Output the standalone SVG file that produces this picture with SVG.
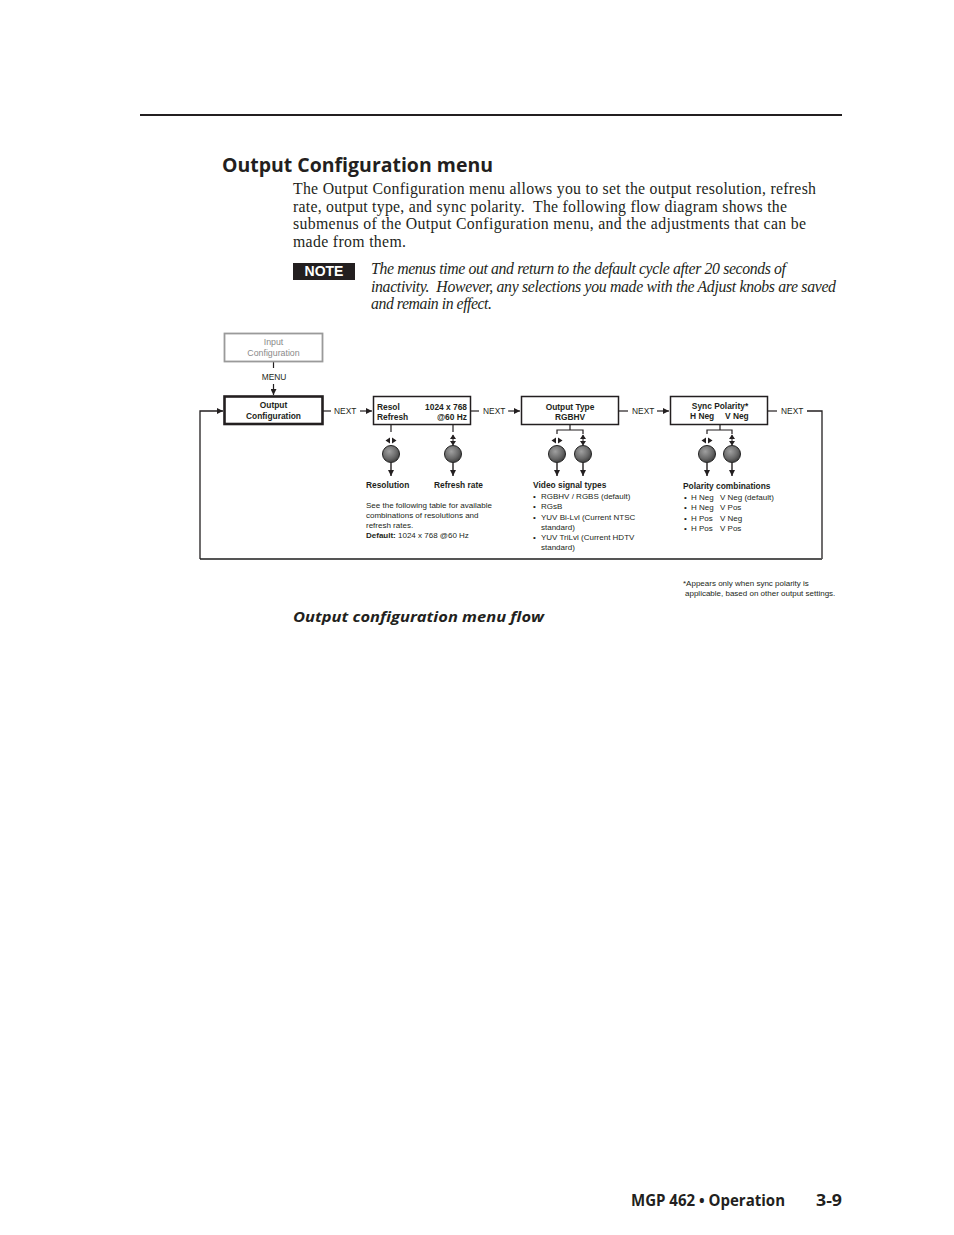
<svg xmlns="http://www.w3.org/2000/svg" width="954" height="1235" viewBox="0 0 954 1235">
<style>
.t{font-family:"Liberation Sans",Arial,sans-serif;fill:#231f20}
.s{font-size:8px}
.b{font-size:8.4px;font-weight:bold}
.g{fill:#8a8a8a;font-size:8.8px}
.n{font-size:8.4px}
.para{font-family:"Liberation Serif","Times New Roman",serif;font-size:15.8px;fill:#231f20}
.it{font-style:italic}
.box{fill:#fff;stroke:#231f20;stroke-width:1.5}
.ln{fill:none;stroke:#231f20;stroke-width:1.2}
</style>
<defs>
<marker id="ah" viewBox="0 0 8 8" refX="8" refY="4" markerWidth="6" markerHeight="6" markerUnits="userSpaceOnUse" orient="auto">
<path d="M0,0 L8,4 L0,8 z" fill="#231f20"/>
</marker>
<radialGradient id="kg" cx="0.4" cy="0.35" r="0.7">
<stop offset="0" stop-color="#a0a0a0"/>
<stop offset="0.6" stop-color="#6a6a6a"/>
<stop offset="1" stop-color="#3a3a3a"/>
</radialGradient>
<g id="knob">
<circle cx="0" cy="0" r="8.5" fill="url(#kg)" stroke="#222" stroke-width="1"/>
<line x1="0" y1="9" x2="0" y2="22" stroke="#231f20" stroke-width="1.4" marker-end="url(#ah)"/>
</g>
<g id="hicon">
<path d="M-5.5,0 L-1,-3 L-1,3 z M5.5,0 L1,-3 L1,3 z" fill="#231f20"/>
</g>
<g id="vicon">
<line x1="0" y1="-5" x2="0" y2="5" stroke="#231f20" stroke-width="1"/>
<path d="M0,-5.5 L-3,-1 L3,-1 z M0,5.5 L-3,1 L3,1 z" fill="#231f20"/>
</g>
</defs>
<rect width="954" height="1235" fill="#fff"/>

<g id="page">
<line x1="140" y1="115" x2="842" y2="115" stroke="#231f20" stroke-width="2"/>
<text x="222" y="172" font-family="'Open Sans','Liberation Sans',sans-serif" font-weight="bold" font-size="19" fill="#231f20" textLength="271" lengthAdjust="spacingAndGlyphs">Output Configuration menu</text>
<text class="para" x="293" y="194" textLength="523">The Output Configuration menu allows you to set the output resolution, refresh</text>
<text class="para" x="293" y="212" textLength="494" xml:space="preserve">rate, output type, and sync polarity.  The following flow diagram shows the</text>
<text class="para" x="293" y="229" textLength="513">submenus of the Output Configuration menu, and the adjustments that can be</text>
<text class="para" x="293" y="247" textLength="113">made from them.</text>
<rect x="293" y="263" width="62" height="17" fill="#231f20"/>
<text x="324" y="276" text-anchor="middle" font-family="'Liberation Sans',Arial,sans-serif" font-weight="bold" font-size="14" fill="#fff">NOTE</text>
<text class="para it" x="371" y="274" textLength="415">The menus time out and return to the default cycle after 20 seconds of</text>
<text class="para it" x="371" y="292" textLength="465" xml:space="preserve">inactivity.  However, any selections you made with the Adjust knobs are saved</text>
<text class="para it" x="371" y="309" textLength="121">and remain in effect.</text>
<text x="293" y="622" font-family="'Open Sans','Liberation Sans',sans-serif" font-weight="bold" font-style="italic" font-size="14.5" fill="#231f20" textLength="251" lengthAdjust="spacingAndGlyphs">Output configuration menu flow</text>
<text x="631" y="1206" font-family="'Open Sans','Liberation Sans',sans-serif" font-weight="bold" font-size="16" fill="#231f20" textLength="154" lengthAdjust="spacingAndGlyphs">MGP 462 • Operation</text>
<text x="816" y="1206" font-family="'Open Sans','Liberation Sans',sans-serif" font-weight="bold" font-size="16" fill="#231f20" textLength="26" lengthAdjust="spacingAndGlyphs">3-9</text>
</g>

<g id="connectors">
<line class="ln" x1="273.5" y1="362" x2="273.5" y2="368"/>
<line class="ln" x1="273.5" y1="384" x2="273.5" y2="395" marker-end="url(#ah)"/>
<line class="ln" x1="323" y1="411" x2="331" y2="411"/>
<line class="ln" x1="360" y1="411" x2="372" y2="411" marker-end="url(#ah)"/>
<line class="ln" x1="471" y1="411" x2="479" y2="411"/>
<line class="ln" x1="508" y1="411" x2="520" y2="411" marker-end="url(#ah)"/>
<line class="ln" x1="619" y1="411" x2="628" y2="411"/>
<line class="ln" x1="657" y1="411" x2="669" y2="411" marker-end="url(#ah)"/>
<line class="ln" x1="768" y1="411" x2="777" y2="411"/>
<polyline fill="none" stroke="#231f20" stroke-width="1.3" points="807,411 822,411 822,559"/>
<polyline fill="none" stroke="#555" stroke-width="2" points="822,559 200,559"/>
<polyline fill="none" stroke="#231f20" stroke-width="1.3" points="200,559 200,411 223,411" marker-end="url(#ah)"/>
<text class="t n" x="274" y="380" text-anchor="middle">MENU</text>
<text class="t n" x="334" y="414">NEXT</text>
<text class="t n" x="483" y="414">NEXT</text>
<text class="t n" x="632" y="414">NEXT</text>
<text class="t n" x="781" y="414">NEXT</text>
</g>

<g id="input-config">
<rect x="224.5" y="333.5" width="98" height="28" fill="#fff" stroke="#9a9a9a" stroke-width="1.8"/>
<text class="t g" x="273.5" y="345" text-anchor="middle">Input</text>
<text class="t g" x="273.5" y="356" text-anchor="middle">Configuration</text>
</g>

<g id="output-config">
<rect x="224.5" y="396.5" width="98" height="27.5" fill="#fff" stroke="#231f20" stroke-width="2.6"/>
<text class="t b" x="273.5" y="408" text-anchor="middle">Output</text>
<text class="t b" x="273.5" y="418.5" text-anchor="middle">Configuration</text>
</g>

<g id="resol">
<rect class="box" x="373.5" y="396.5" width="97" height="28"/>
<text class="t b" x="377" y="410">Resol</text>
<text class="t b" x="467" y="410" text-anchor="end">1024 x 768</text>
<text class="t b" x="377" y="420">Refresh</text>
<text class="t b" x="467" y="420" text-anchor="end">@60 Hz</text>
<line class="ln" x1="391" y1="425" x2="391" y2="432"/>
<line class="ln" x1="453" y1="425" x2="453" y2="432"/>
<use href="#hicon" x="391" y="440.5"/>
<use href="#vicon" x="453" y="440"/>
<use href="#knob" x="391" y="454"/>
<use href="#knob" x="453" y="454"/>
<text class="t b" x="366" y="488">Resolution</text>
<text class="t b" x="434" y="488">Refresh rate</text>
<text class="t s" x="366" y="507.5">See the following table for available</text>
<text class="t s" x="366" y="517.5">combinations of resolutions and</text>
<text class="t s" x="366" y="527.5">refresh rates.</text>
<text class="t s" x="366" y="538"><tspan font-weight="bold">Default:</tspan>  1024 x 768 @60 Hz</text>
</g>

<g id="output-type">
<rect class="box" x="521.5" y="396.5" width="97" height="28"/>
<text class="t b" x="570" y="409.5" text-anchor="middle">Output Type</text>
<text class="t b" x="570" y="419.5" text-anchor="middle">RGBHV</text>
<polyline class="ln" points="570,425 570,430"/>
<polyline class="ln" points="557,434 557,430 583,430 583,434"/>
<use href="#hicon" x="557" y="440.5"/>
<use href="#vicon" x="583" y="440"/>
<use href="#knob" x="557" y="454"/>
<use href="#knob" x="583" y="454"/>
<text class="t b" x="533" y="488">Video signal types</text>
<text class="t s" x="533" y="498.5">•</text><text class="t s" x="541" y="498.5">RGBHV / RGBS (default)</text>
<text class="t s" x="533" y="509">•</text><text class="t s" x="541" y="509">RGsB</text>
<text class="t s" x="533" y="519.5">•</text><text class="t s" x="541" y="519.5">YUV Bi-Lvl (Current NTSC</text>
<text class="t s" x="541" y="529.5">standard)</text>
<text class="t s" x="533" y="540">•</text><text class="t s" x="541" y="540">YUV TriLvl (Current HDTV</text>
<text class="t s" x="541" y="550">standard)</text>
</g>

<g id="sync-polarity">
<rect class="box" x="670.5" y="396.5" width="97" height="28"/>
<text class="t b" x="720" y="408.5" text-anchor="middle">Sync Polarity*</text>
<text class="t b" x="690" y="418.5">H Neg</text>
<text class="t b" x="725" y="418.5">V Neg</text>
<polyline class="ln" points="720,425 720,430"/>
<polyline class="ln" points="707,434 707,430 732,430 732,434"/>
<use href="#hicon" x="707" y="440.5"/>
<use href="#vicon" x="732" y="440"/>
<use href="#knob" x="707" y="454"/>
<use href="#knob" x="732" y="454"/>
<text class="t b" x="683" y="489">Polarity combinations</text>
<text class="t s" x="684" y="499.5">•</text><text class="t s" x="691" y="499.5">H Neg</text><text class="t s" x="720" y="499.5">V Neg (default)</text>
<text class="t s" x="684" y="510">•</text><text class="t s" x="691" y="510">H Neg</text><text class="t s" x="720" y="510">V Pos</text>
<text class="t s" x="684" y="520.5">•</text><text class="t s" x="691" y="520.5">H Pos</text><text class="t s" x="720" y="520.5">V Neg</text>
<text class="t s" x="684" y="531">•</text><text class="t s" x="691" y="531">H Pos</text><text class="t s" x="720" y="531">V Pos</text>
<text class="t s" x="683" y="586" font-size="7.3">*Appears only when sync polarity is</text>
<text class="t s" x="685" y="596" font-size="7.3">applicable, based on other output settings.</text>
</g>
</svg>
